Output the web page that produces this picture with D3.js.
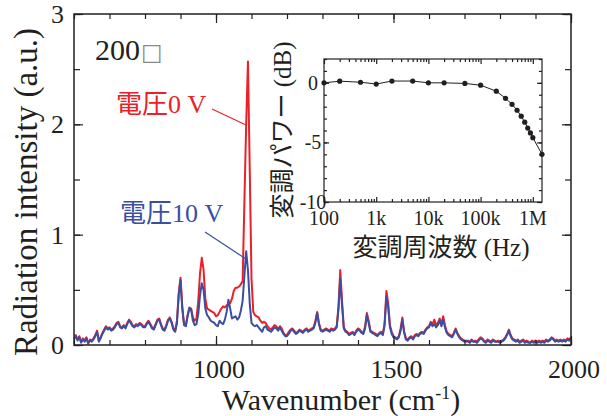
<!DOCTYPE html>
<html><head><meta charset="utf-8">
<script src="https://cdn.jsdelivr.net/npm/d3@7"></script>
<style>
body{margin:0;background:#fff}
text{font-family:"Liberation Serif","Noto Sans CJK JP",serif;fill:#231f20}
</style>
</head><body>
<svg id="chart" width="607" height="416"></svg>
<script>
// Spectra sampled every 5 cm-1 from 600 to 2000 cm-1 (one row per 100 cm-1)
const wnStart = 600, wnStep = 5;
const red0V = [
  0.06,0.09,0.05,0.08,0.03,0.06,0.04,0.07,0.01,0.05,0.04,0.06,0.09,0.13,0.04,0.07,0.11,0.14,0.17,0.15,
  0.16,0.14,0.15,0.17,0.20,0.21,0.17,0.16,0.18,0.16,0.20,0.23,0.21,0.18,0.17,0.19,0.18,0.20,0.19,0.17,
  0.17,0.20,0.22,0.19,0.16,0.15,0.19,0.23,0.24,0.19,0.15,0.14,0.18,0.23,0.25,0.21,0.15,0.13,0.22,0.47,
  0.61,0.35,0.19,0.18,0.27,0.34,0.33,0.25,0.22,0.24,0.40,0.65,0.79,0.68,0.42,0.33,0.32,0.31,0.30,0.29,
  0.26,0.27,0.30,0.33,0.35,0.34,0.36,0.37,0.38,0.42,0.49,0.52,0.52,0.53,0.55,0.58,1.30,2.00,2.57,1.60,
  0.60,0.30,0.27,0.26,0.25,0.22,0.20,0.21,0.20,0.17,0.15,0.14,0.16,0.18,0.17,0.14,0.17,0.15,0.11,0.09,
  0.09,0.12,0.14,0.15,0.13,0.11,0.12,0.14,0.13,0.12,0.14,0.15,0.13,0.14,0.15,0.16,0.22,0.30,0.20,0.14,
  0.13,0.14,0.15,0.14,0.13,0.15,0.14,0.15,0.17,0.35,0.68,0.40,0.16,0.13,0.12,0.10,0.11,0.12,0.10,0.13,
  0.15,0.14,0.12,0.11,0.17,0.29,0.22,0.13,0.12,0.11,0.10,0.09,0.11,0.12,0.10,0.20,0.49,0.38,0.18,0.12,
  0.08,0.07,0.06,0.08,0.15,0.25,0.12,0.06,0.05,0.07,0.08,0.06,0.09,0.10,0.09,0.11,0.12,0.11,0.14,0.16,
  0.17,0.21,0.19,0.23,0.18,0.20,0.24,0.19,0.26,0.18,0.12,0.10,0.09,0.08,0.11,0.15,0.11,0.08,0.06,0.05,
  0.04,0.03,0.04,0.03,0.05,0.03,0.04,0.03,0.05,0.07,0.06,0.04,0.03,0.05,0.04,0.03,0.05,0.04,0.03,0.04,
  0.03,0.04,0.05,0.07,0.10,0.14,0.09,0.06,0.05,0.04,0.05,0.03,0.04,0.05,0.03,0.04,0.03,0.02,0.04,0.03,
  0.04,0.03,0.04,0.03,0.04,0.03,0.05,0.04,0.05,0.07,0.06,0.04,0.05,0.04,0.05,0.04,0.05,0.04,0.06,0.05,
  0.07
];
const blue10V = [
  0.05,0.08,0.04,0.07,0.02,0.05,0.03,0.06,0.02,0.04,0.03,0.05,0.08,0.12,0.03,0.06,0.10,0.13,0.16,0.14,
  0.15,0.13,0.14,0.16,0.19,0.20,0.16,0.15,0.17,0.15,0.19,0.22,0.20,0.17,0.16,0.18,0.17,0.19,0.18,0.16,
  0.16,0.19,0.21,0.18,0.15,0.14,0.18,0.22,0.23,0.18,0.14,0.13,0.17,0.22,0.24,0.20,0.14,0.12,0.20,0.45,
  0.59,0.33,0.18,0.17,0.26,0.33,0.32,0.22,0.18,0.19,0.28,0.45,0.56,0.50,0.33,0.27,0.25,0.22,0.21,0.20,
  0.18,0.17,0.22,0.20,0.19,0.23,0.30,0.41,0.33,0.24,0.25,0.26,0.23,0.25,0.31,0.40,0.63,0.85,0.68,0.38,
  0.20,0.18,0.17,0.18,0.16,0.14,0.12,0.16,0.17,0.14,0.13,0.12,0.14,0.16,0.15,0.13,0.16,0.13,0.10,0.08,
  0.08,0.10,0.13,0.14,0.12,0.10,0.11,0.13,0.12,0.11,0.13,0.14,0.12,0.13,0.14,0.15,0.20,0.29,0.19,0.13,
  0.12,0.13,0.14,0.13,0.12,0.14,0.13,0.14,0.16,0.32,0.60,0.36,0.15,0.12,0.11,0.09,0.10,0.11,0.09,0.12,
  0.14,0.13,0.11,0.10,0.15,0.27,0.20,0.12,0.11,0.10,0.09,0.08,0.10,0.11,0.09,0.18,0.44,0.34,0.16,0.10,
  0.07,0.06,0.05,0.07,0.13,0.23,0.11,0.05,0.04,0.06,0.07,0.05,0.08,0.09,0.08,0.10,0.11,0.10,0.13,0.15,
  0.16,0.20,0.17,0.19,0.16,0.18,0.22,0.17,0.23,0.16,0.11,0.09,0.08,0.07,0.10,0.14,0.10,0.07,0.05,0.04,
  0.03,0.04,0.03,0.02,0.04,0.03,0.03,0.02,0.04,0.06,0.05,0.03,0.02,0.04,0.03,0.02,0.04,0.03,0.03,0.03,
  0.02,0.03,0.04,0.06,0.09,0.13,0.08,0.05,0.04,0.03,0.04,0.02,0.03,0.04,0.02,0.03,0.02,0.02,0.03,0.02,
  0.03,0.02,0.03,0.02,0.03,0.02,0.04,0.03,0.04,0.06,0.05,0.03,0.04,0.03,0.04,0.03,0.04,0.03,0.05,0.04,
  0.06
];
const xTicksMain = [1000, 1500, 2000];
const yTicksMain = [0, 1, 2, 3];

// Inset: modulation response
const modFreq = [100,200,500,1e3,2e3,5e3,1e4,2e4,5e4,1e5,2e5,3e5,4e5,5e5,6e5,7e5,8e5,9e5,1e6,1.5e6];
const modPower = [0,0.14,0.05,-0.1,0.15,0.15,0,0,-0.05,-0.2,-0.7,-1.3,-1.8,-2.3,-2.8,-3.3,-3.8,-4.2,-4.6,-6.0];
const insetXTicks = [100, 1e3, 1e4, 1e5, 1e6];
const insetXTickLabels = ["100", "1k", "10k", "100k", "1M"];
const insetYTicks = [0, -5, -10];

const RED = "#ec2027", BLUE = "#3b4fa2", INK = "#231f20";
const svg = d3.select("#chart");

// ---------- main plot ----------
const L = 74, R = 571, T = 14, B = 345;
const x = d3.scaleLinear().domain([600, 2000]).range([L, R]);
const y = d3.scaleLinear().domain([0, 3]).range([B, T]);

svg.append("clipPath").attr("id", "plotClip")
  .append("rect").attr("x", L).attr("y", T).attr("width", R - L).attr("height", B - T);

const line = d3.line()
  .x((d, i) => x(wnStart + i * wnStep))
  .y(d => y(d));

const plot = svg.append("g").attr("clip-path", "url(#plotClip)");
plot.append("path").datum(red0V).attr("d", line)
  .attr("fill", "none").attr("stroke", RED).attr("stroke-width", 2).attr("stroke-linejoin", "round");
plot.append("path").datum(blue10V).attr("d", line)
  .attr("fill", "none").attr("stroke", BLUE).attr("stroke-width", 2).attr("stroke-linejoin", "round");

// ticks (inward, mirrored on all four sides)
const xMinor = d3.range(600, 2001, 100);
const yMinor = d3.range(0, 3.01, 0.5);
function tickAxis(gen, tr, vals, size) {
  const g = svg.append("g").attr("transform", tr)
    .call(gen.tickValues(vals).tickSize(size).tickFormat(""));
  g.select(".domain").remove();
  g.selectAll("line").attr("stroke", INK).attr("stroke-width", 1.2);
  return g;
}
tickAxis(d3.axisBottom(x), `translate(0,${B})`, xMinor, -5);
tickAxis(d3.axisTop(x), `translate(0,${T})`, xMinor, -5);
tickAxis(d3.axisBottom(x), `translate(0,${B})`, xTicksMain, -9);
tickAxis(d3.axisTop(x), `translate(0,${T})`, xTicksMain, -9);
tickAxis(d3.axisLeft(y), `translate(${L},0)`, yMinor, -6);
tickAxis(d3.axisRight(y), `translate(${R},0)`, yMinor, -6);
tickAxis(d3.axisLeft(y), `translate(${L},0)`, yTicksMain, -9);
tickAxis(d3.axisRight(y), `translate(${R},0)`, yTicksMain, -9);

svg.append("rect").attr("x", L).attr("y", T).attr("width", R - L).attr("height", B - T)
  .attr("fill", "none").attr("stroke", INK).attr("stroke-width", 1.5);

svg.append("g").selectAll("text").data(xTicksMain).join("text")
  .attr("x", d => x(d) + 3).attr("y", 378).attr("text-anchor", "middle")
  .attr("font-size", 26).text(d => d);
svg.append("g").selectAll("text").data(yTicksMain).join("text")
  .attr("x", 64).attr("y", d => y(d)).attr("dy", "0.35em").attr("text-anchor", "end")
  .attr("font-size", 26).text(d => d);

// axis titles
const xt = svg.append("text").attr("x", 341).attr("y", 410).attr("text-anchor", "middle")
  .attr("font-size", 30);
xt.append("tspan").text("Wavenumber (cm");
xt.append("tspan").attr("font-size", 18).attr("dy", -11).text("-1");
xt.append("tspan").attr("dy", 11).text(")");

svg.append("text").attr("transform", "translate(37,192) rotate(-90)")
  .attr("text-anchor", "middle").attr("font-size", 33).text("Radiation intensity (a.u.)");

// annotations
const pulse = svg.append("text").attr("x", 95).attr("y", 60).attr("font-size", 30);
pulse.append("tspan").text("200");
pulse.append("tspan").attr("font-family", "DejaVu Sans").attr("font-size", 23)
  .style("fill", "#8a8a8a").attr("dx", 1).text("□");

svg.append("text").attr("x", 116).attr("y", 113).attr("font-size", 26)
  .style("fill", RED).text("電圧0 V");
svg.append("line").attr("x1", 212).attr("y1", 109).attr("x2", 246).attr("y2", 125)
  .attr("stroke", RED).attr("stroke-width", 1.2);

svg.append("text").attr("x", 120).attr("y", 222).attr("font-size", 26)
  .style("fill", BLUE).text("電圧10 V");
svg.append("line").attr("x1", 205).attr("y1", 232).attr("x2", 246).attr("y2", 259)
  .attr("stroke", BLUE).attr("stroke-width", 1.2);

// ---------- inset ----------
const iL = 324, iR = 542, iT = 59, iB = 202;
const ix = d3.scaleLog().domain([100, 1.5e6]).range([iL, iR]);
const iy = d3.scaleLinear().domain([-10, 2]).range([iB, iT]);

svg.append("rect").attr("x", iL).attr("y", iT).attr("width", iR - iL).attr("height", iB - iT)
  .attr("fill", "#fff");

const ixMinor = ix.ticks().filter(v => !insetXTicks.includes(v));
const iyMinor = d3.range(-10, 2.01, 1);
tickAxis(d3.axisBottom(ix), `translate(0,${iB})`, ixMinor, -3);
tickAxis(d3.axisTop(ix), `translate(0,${iT})`, ixMinor, -3);
tickAxis(d3.axisBottom(ix), `translate(0,${iB})`, insetXTicks, -5);
tickAxis(d3.axisTop(ix), `translate(0,${iT})`, insetXTicks, -5);
tickAxis(d3.axisLeft(iy), `translate(${iL},0)`, iyMinor, -3);
tickAxis(d3.axisRight(iy), `translate(${iR},0)`, iyMinor, -3);
tickAxis(d3.axisLeft(iy), `translate(${iL},0)`, insetYTicks, -5);
tickAxis(d3.axisRight(iy), `translate(${iR},0)`, insetYTicks, -5);

svg.append("rect").attr("x", iL).attr("y", iT).attr("width", iR - iL).attr("height", iB - iT)
  .attr("fill", "none").attr("stroke", INK).attr("stroke-width", 1.2);

svg.append("path").datum(modPower)
  .attr("d", d3.line().x((d, i) => ix(modFreq[i])).y(d => iy(d)))
  .attr("fill", "none").attr("stroke", INK).attr("stroke-width", 1);
svg.append("g").selectAll("circle").data(modPower).join("circle")
  .attr("cx", (d, i) => ix(modFreq[i])).attr("cy", d => iy(d)).attr("r", 2.6)
  .attr("fill", INK);

svg.append("g").selectAll("text").data(insetXTicks).join("text")
  .attr("x", d => ix(d)).attr("y", 225).attr("text-anchor", "middle")
  .attr("font-size", 20).text((d, i) => insetXTickLabels[i]);
svg.append("g").selectAll("text").data(insetYTicks).join("text")
  .attr("x", 313).attr("y", d => iy(d)).attr("dy", "0.35em").attr("text-anchor", "middle")
  .attr("font-size", 20).text(d => d);

svg.append("text").attr("x", 441).attr("y", 256).attr("text-anchor", "middle")
  .attr("font-size", 25).text("変調周波数 (Hz)");
svg.append("text").attr("transform", "translate(291,130) rotate(-90)")
  .attr("text-anchor", "middle").attr("font-size", 25).text("変調パワー (dB)");
</script>
</body></html>
